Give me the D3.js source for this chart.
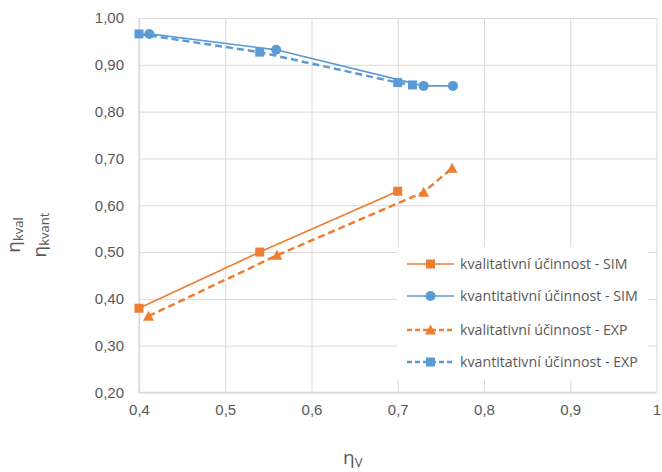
<!DOCTYPE html>
<html>
<head>
<meta charset="utf-8">
<script src="https://cdn.jsdelivr.net/npm/d3@7"></script>
<style>
  html, body { margin: 0; padding: 0; background: #fff; }
  svg { display: block; font-family: "Open Sans", "Liberation Sans", sans-serif; }
</style>
</head>
<body>
<svg id="chart" width="662" height="472"></svg>
<script>
// Volumetric efficiency (x) against qualitative / quantitative efficiency (y)
const kvalSimX = [0.40, 0.54, 0.70];
const kvalSimY = [0.38, 0.50, 0.63];

const kvantSimX = [0.412, 0.559, 0.730, 0.764];
const kvantSimY = [0.966, 0.932, 0.855, 0.855];

const kvalExpX = [0.411, 0.560, 0.730, 0.763];
const kvalExpY = [0.363, 0.493, 0.628, 0.679];

const kvantExpX = [0.400, 0.540, 0.700, 0.717];
const kvantExpY = [0.966, 0.927, 0.862, 0.857];

const xTicks = [0.4, 0.5, 0.6, 0.7, 0.8, 0.9, 1.0];
const yTicks = [0.2, 0.3, 0.4, 0.5, 0.6, 0.7, 0.8, 0.9, 1.0];

const seriesNames = [
  "kvalitativní účinnost - SIM",
  "kvantitativní účinnost - SIM",
  "kvalitativní účinnost - EXP",
  "kvantitativní účinnost - EXP"
];

const ORANGE = "#ED7D31";
const BLUE = "#5B9BD5";
const GRID = "#d9d9d9";
const TEXT = "#595959";

const series = [
  { name: seriesNames[0], xs: kvalSimX, ys: kvalSimY, color: ORANGE, dash: null, marker: "square" },
  { name: seriesNames[1], xs: kvantSimX, ys: kvantSimY, color: BLUE, dash: null, marker: "circle" },
  { name: seriesNames[2], xs: kvalExpX, ys: kvalExpY, color: ORANGE, dash: "7,4", marker: "triangle" },
  { name: seriesNames[3], xs: kvantExpX, ys: kvantExpY, color: BLUE, dash: "7,4", marker: "square" }
];

const svg = d3.select("#chart");
const margin = { left: 139, top: 18, right: 5.5, bottom: 79.5 };
const W = 662 - margin.left - margin.right;
const H = 472 - margin.top - margin.bottom;

const x = d3.scaleLinear().domain([0.4, 1.0]).range([0, W]);
const y = d3.scaleLinear().domain([0.2, 1.0]).range([H, 0]);

const g = svg.append("g").attr("transform", `translate(${margin.left},${margin.top})`);

const comma = s => s.replace(".", ",");

// Grid + axes
const yAxis = g.append("g")
  .call(d3.axisLeft(y).tickValues(yTicks).tickSize(-W).tickPadding(15)
    .tickFormat(d => comma(d3.format(".2f")(d))));
const xAxis = g.append("g").attr("transform", `translate(0,${H})`)
  .call(d3.axisBottom(x).tickValues(xTicks).tickSize(-H).tickPadding(12)
    .tickFormat(d => d === 1 ? "1" : comma(d3.format(".1f")(d))));

[yAxis, xAxis].forEach(a => {
  a.select(".domain").remove();
  a.selectAll(".tick line").attr("stroke", GRID).attr("stroke-width", 1);
  a.selectAll(".tick text").attr("fill", TEXT).style("font-size", "15px");
});
g.append("line").attr("x1", 0).attr("x2", 0).attr("y1", 0).attr("y2", H)
  .attr("stroke", GRID).attr("stroke-width", 1.3);
g.append("line").attr("x1", 0).attr("x2", W).attr("y1", H).attr("y2", H)
  .attr("stroke", GRID).attr("stroke-width", 1.3);

// Marker shapes
function drawMarker(sel, type, color, cx, cy) {
  if (type === "square") {
    sel.append("rect").attr("x", cx - 4.5).attr("y", cy - 4.5)
      .attr("width", 9).attr("height", 9).attr("fill", color);
  } else if (type === "circle") {
    sel.append("circle").attr("cx", cx).attr("cy", cy).attr("r", 5).attr("fill", color);
  } else {
    sel.append("path")
      .attr("d", `M${cx},${cy - 5.5}L${cx + 5.5},${cy + 4.5}L${cx - 5.5},${cy + 4.5}Z`)
      .attr("fill", color);
  }
}

const line = d3.line().x(d => x(d[0])).y(d => y(d[1]));

series.forEach(s => {
  const pts = s.xs.map((v, i) => [v, s.ys[i]]);
  const sg = g.append("g");
  sg.append("path").attr("d", line(pts)).attr("fill", "none")
    .attr("stroke", s.color).attr("stroke-width", s.dash ? 2.5 : 1.6)
    .attr("stroke-dasharray", s.dash);
  pts.forEach(p => drawMarker(sg, s.marker, s.color, x(p[0]), y(p[1])));
});

// Legend
const legend = svg.append("g");
legend.append("rect").attr("x", 397).attr("y", 247).attr("width", 251).attr("height", 133)
  .attr("fill", "#fff");
const rowY = [264, 296, 330, 362];
series.forEach((s, i) => {
  const ly = rowY[i];
  legend.append("line").attr("x1", 407).attr("x2", 454).attr("y1", ly).attr("y2", ly)
    .attr("stroke", s.color).attr("stroke-width", s.dash ? 2.5 : 1.6)
    .attr("stroke-dasharray", s.dash ? "5,3" : null);
  drawMarker(legend, s.marker, s.color, 430.5, ly);
  legend.append("text").attr("x", 460).attr("y", ly).attr("dy", "0.35em")
    .attr("fill", TEXT).style("font-size", "14.2px").text(s.name);
});

// Axis titles
const xt = svg.append("text").attr("x", 343).attr("y", 464).attr("fill", TEXT)
  .style("font-size", "19px");
xt.append("tspan").text("η");
xt.append("tspan").attr("dy", 2.5).style("font-size", "13px").text("V");

function yTitle(cx, sub) {
  const t = svg.append("text").attr("transform", `translate(${cx},235) rotate(-90)`)
    .attr("text-anchor", "middle").attr("fill", TEXT).style("font-size", "19px");
  t.append("tspan").text("η");
  t.append("tspan").attr("dy", 3).style("font-size", "13px").text(sub);
}
yTitle(20, "kval");
yTitle(46, "kvant");
</script>
</body>
</html>
